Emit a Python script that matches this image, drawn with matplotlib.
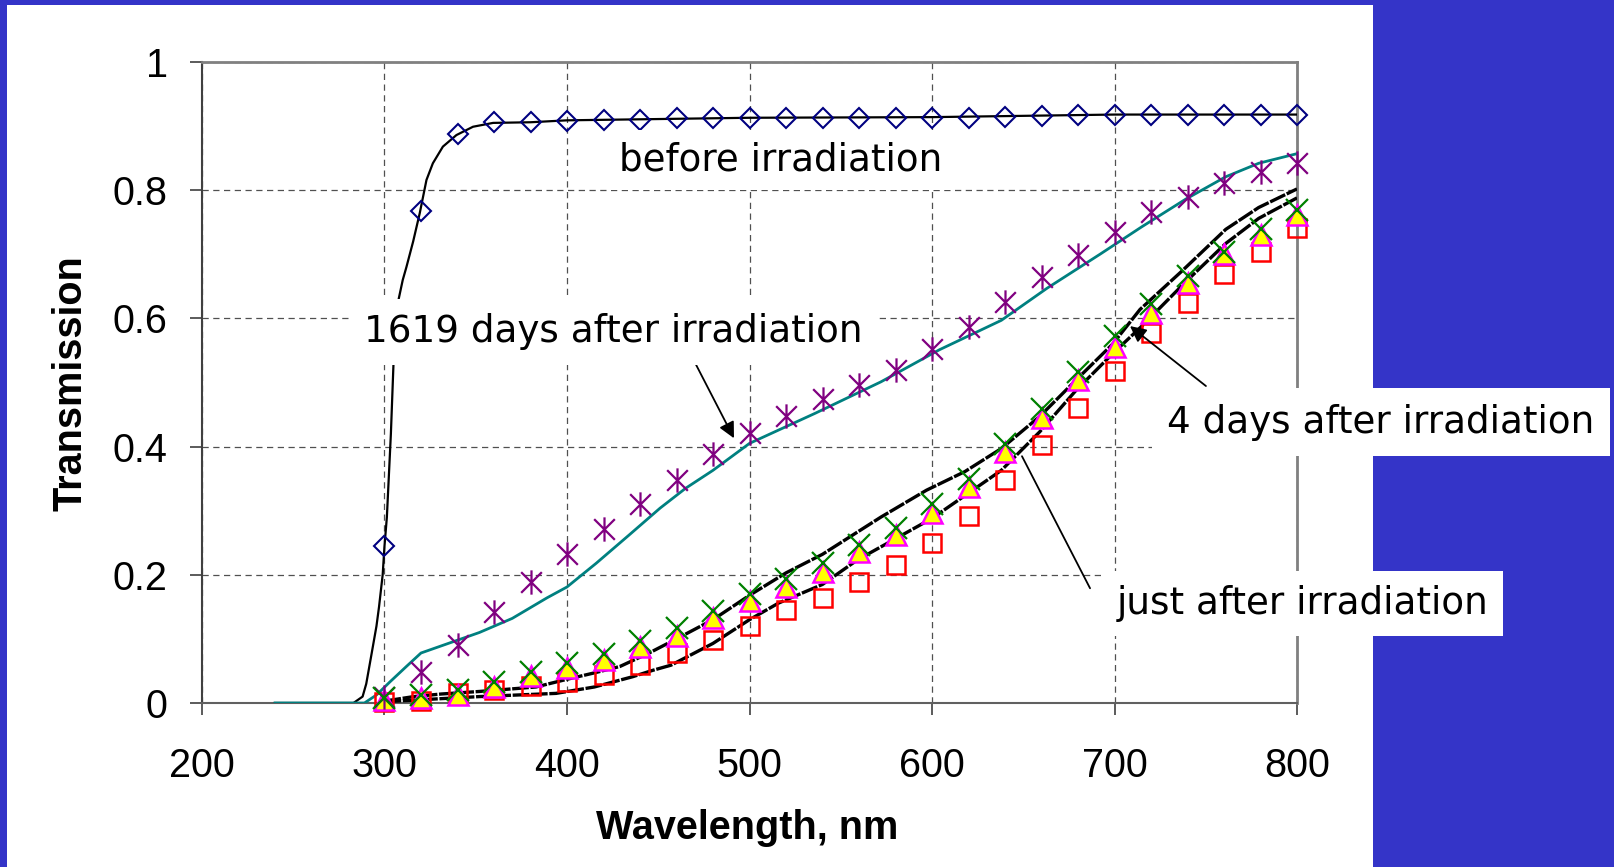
import matplotlib
matplotlib.use("Agg")
import matplotlib.pyplot as plt
from matplotlib.patches import Rectangle
from matplotlib.path import Path
import numpy as np

plt.rcParams['font.family'] = ['Liberation Sans', 'DejaVu Sans']

# marker wavelengths (nm)
wl_marks = [300, 320, 340, 360, 380, 400, 420, 440, 460, 480, 500, 520, 540,
            560, 580, 600, 620, 640, 660, 680, 700, 720, 740, 760, 780, 800]

# before irradiation (diamonds)
before_marks = [0.245, 0.767, 0.887, 0.906, 0.906, 0.908, 0.910, 0.910, 0.912, 0.913,
                0.913, 0.913, 0.913, 0.913, 0.913, 0.913, 0.913, 0.914, 0.916, 0.917,
                0.917, 0.918, 0.918, 0.918, 0.918, 0.918]
# 1619 days after irradiation (asterisks)
d1619_marks = [0.010, 0.049, 0.090, 0.142, 0.189, 0.232, 0.271, 0.310, 0.348, 0.388,
               0.421, 0.447, 0.474, 0.496, 0.519, 0.552, 0.587, 0.626, 0.664, 0.699,
               0.735, 0.766, 0.789, 0.812, 0.829, 0.842]
# just after irradiation (squares)
just_marks = [0.001, 0.003, 0.015, 0.020, 0.026, 0.033, 0.044, 0.059, 0.078, 0.098,
              0.120, 0.145, 0.164, 0.189, 0.215, 0.250, 0.292, 0.348, 0.402, 0.460,
              0.518, 0.577, 0.624, 0.670, 0.704, 0.741]
# triangles
tri_marks = [0.004, 0.008, 0.013, 0.025, 0.042, 0.054, 0.067, 0.088, 0.105, 0.132,
             0.159, 0.181, 0.205, 0.236, 0.262, 0.297, 0.337, 0.392, 0.444, 0.504,
             0.556, 0.609, 0.655, 0.700, 0.730, 0.762]
# crosses
x_marks = [0.008, 0.012, 0.020, 0.032, 0.048, 0.062, 0.076, 0.097, 0.117, 0.144,
           0.170, 0.194, 0.218, 0.247, 0.273, 0.310, 0.350, 0.404, 0.458, 0.516,
           0.573, 0.622, 0.666, 0.704, 0.739, 0.769]

# measured spectra (lines)
before_wl = [240, 283, 288, 290, 293, 295.6, 297, 299, 300, 301.3, 303.5, 305, 307, 310,
             312, 315.7, 319.3, 323, 326.5, 332, 339.4, 348.5, 359.5, 380, 400, 450,
             500, 600, 650, 700, 800]
before_T = [0.0, 0.0, 0.01, 0.03, 0.078, 0.12, 0.15, 0.20, 0.245, 0.29, 0.42, 0.535, 0.62,
            0.66, 0.68, 0.72, 0.764, 0.816, 0.842, 0.868, 0.886, 0.899, 0.905, 0.906,
            0.909, 0.911, 0.913, 0.914, 0.916, 0.918, 0.918]

d1619_wl = [240, 289, 295.6, 303, 312, 320, 332, 343, 352, 370, 389, 400, 416, 434, 451,
            465, 480, 500, 536, 572, 604, 638, 663, 692, 715, 739, 761, 779, 800]
d1619_T = [0.0, 0.0, 0.0125, 0.033, 0.057, 0.078, 0.090, 0.101, 0.110, 0.132, 0.164, 0.181,
           0.218, 0.262, 0.304, 0.335, 0.363, 0.405, 0.452, 0.501, 0.551, 0.597, 0.647,
           0.700, 0.743, 0.786, 0.821, 0.842, 0.857]

days4_wl = [300, 316, 331, 352, 383, 400, 415, 429, 445, 462, 480, 500, 520, 540, 572,
            597, 618, 638, 659, 679, 699, 714, 737, 761, 779, 800]
days4_T = [0.003, 0.010, 0.014, 0.018, 0.025, 0.037, 0.047, 0.057, 0.078, 0.103, 0.130,
           0.168, 0.203, 0.232, 0.290, 0.332, 0.361, 0.397, 0.447, 0.504, 0.560, 0.614,
           0.674, 0.739, 0.773, 0.802]

just_wl = [300, 352, 394, 415, 436, 447, 457, 480, 500, 516, 540, 559, 600, 638, 659,
           679, 699, 715, 739, 761, 779, 800]
just_T = [0.002, 0.010, 0.015, 0.025, 0.041, 0.051, 0.059, 0.093, 0.130, 0.156, 0.185,
          0.223, 0.288, 0.363, 0.423, 0.488, 0.545, 0.588, 0.657, 0.717, 0.756, 0.788]

W, H = 1614, 867
fig = plt.figure(figsize=(W / 100, H / 100), dpi=100, facecolor='#3434C8')
fig.patches.append(Rectangle((7 / W, 0), (1373 - 7) / W, (867 - 5) / H,
                             transform=fig.transFigure, fc='white', ec='none', zorder=-1))

ax = fig.add_axes([202 / W, (H - 703) / H, (1297 - 202) / W, (703 - 62) / H])
ax.set_xlim(200, 800)
ax.set_ylim(0, 1)

# lines
ax.plot(before_wl, before_T, color='black', lw=1.6, zorder=3)
ax.plot(d1619_wl, d1619_T, color='#008080', lw=2.0, zorder=3)
ax.plot(days4_wl, days4_T, color='black', lw=2.4, ls=(0, (5, 0.5)), zorder=3)
ax.plot(just_wl, just_T, color='black', lw=2.4, ls=(0, (5, 0.5)), zorder=3)

# markers
asterisk = Path([(0, -1), (0, 1), (-0.85, -0.85), (0.85, 0.85), (-0.85, 0.85), (0.85, -0.85)],
                [Path.MOVETO, Path.LINETO, Path.MOVETO, Path.LINETO, Path.MOVETO, Path.LINETO])
ax.plot(wl_marks, just_marks, ls='none', marker='s', ms=13.5, mfc='none', mec='#FF0000',
        mew=1.8, zorder=4, clip_on=False)
ax.plot(wl_marks, tri_marks, ls='none', marker='^', ms=15, mfc='#FFFF00', mec='#FF00FF',
        mew=1.8, zorder=5, clip_on=False)
ax.plot(wl_marks, x_marks, ls='none', marker='x', ms=15.5, mec='#008000', mew=1.6,
        zorder=6, clip_on=False)
ax.plot(wl_marks, d1619_marks, ls='none', marker=asterisk, ms=17.5, mec='#800080', mew=1.6,
        zorder=5, clip_on=False)
ax.plot(wl_marks, before_marks, ls='none', marker='D', ms=10.5, mfc='none', mec='#000080',
        mew=1.5, zorder=5, clip_on=False)

# axes styling
ax.grid(True, ls=(0, (5, 3.6)), color='#505050', lw=0.9)
ax.set_axisbelow(True)
for s in ['top', 'right']:
    ax.spines[s].set_color('#808080')
    ax.spines[s].set_linewidth(2)
ax.spines['left'].set_color('#404040')
ax.spines['left'].set_linewidth(1.5)
ax.spines['bottom'].set_color('#606060')
ax.spines['bottom'].set_linewidth(1.5)
ax.set_xticks([200, 300, 400, 500, 600, 700, 800])
ax.set_yticks([0, 0.2, 0.4, 0.6, 0.8, 1.0])
ax.set_yticklabels(['0', '0.2', '0.4', '0.6', '0.8', '1'])
ax.tick_params(axis='both', direction='out', length=8.6, width=1.2, color='#404040',
               labelsize=28.5)
ax.tick_params(axis='y', pad=16)
ax.tick_params(axis='x', pad=23)

fig.text(70 / W, 1 - 383 / H, 'Transmission', rotation=90, ha='center', va='center',
         fontsize=28.5, fontweight='bold')
fig.text(747 / W, 1 - 828 / H, 'Wavelength, nm', ha='center', va='center',
         fontsize=28.5, fontweight='bold')

# labels with white boxes and arrows
lab_font = dict(family='DejaVu Sans', fontsize=26.8, ha='center', va='center', zorder=10)
box = dict(boxstyle='square,pad=0.38', fc='white', ec='none')
arrow = dict(arrowstyle='-|>', color='black', lw=1.3, mutation_scale=24, shrinkA=0, shrinkB=0)

ax.text(517, 0.847, 'before irradiation', bbox=dict(boxstyle='square,pad=0.3', fc='white', ec='none'), **lab_font)

ax.annotate('', xy=(491.5, 0.413), xytext=(467.4, 0.546), arrowprops=arrow, zorder=9)
ax.text(425.4, 0.579, '1619 days after irradiation', bbox=box, **lab_font)

ax.annotate('', xy=(708.5, 0.588), xytext=(750.1, 0.4945), arrowprops=arrow, zorder=9)
ax.text(846, 0.438, '4 days after irradiation',
        bbox=dict(boxstyle='square,pad=0.42', fc='white', ec='none'), **lab_font)

ax.annotate('', xy=(649.3, 0.385), xytext=(686.6, 0.179),
            arrowprops=dict(arrowstyle='-', color='black', lw=1.3, shrinkA=0, shrinkB=0), zorder=9)
ax.text(803.3, 0.155, 'just after irradiation', bbox=box, **lab_font)

fig.savefig('out.png', dpi=100, facecolor=fig.get_facecolor())
